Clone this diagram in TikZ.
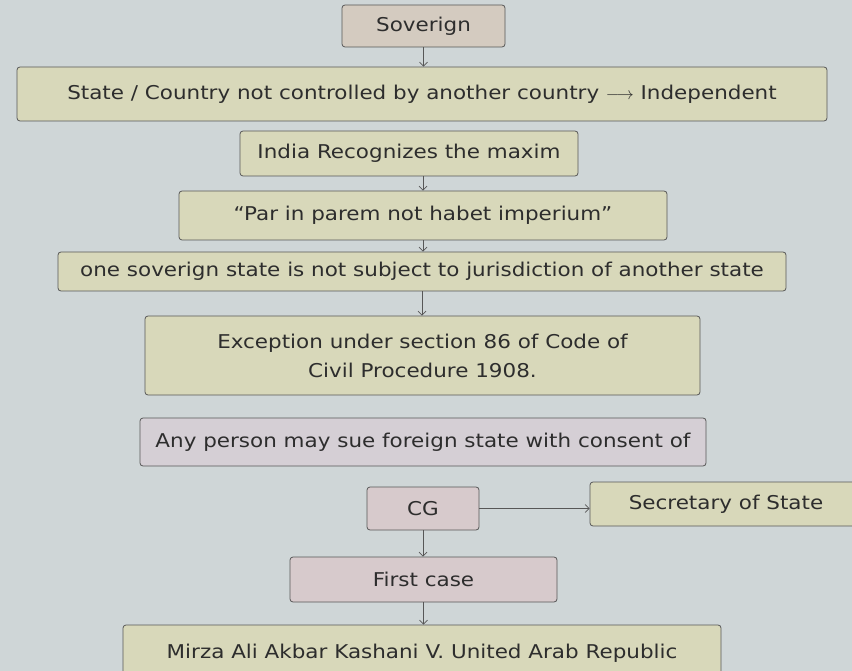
\documentclass[tikz,border=0pt]{standalone}
\usepackage{fontspec}
\setmainfont[FakeStretch=1.13]{DejaVu Sans}
\usetikzlibrary{arrows.meta}
\definecolor{bgcol}{RGB}{207,214,215}
\definecolor{greenbox}{RGB}{216,216,186}
\definecolor{pinkbox}{RGB}{215,202,204}
\definecolor{tanbox}{RGB}{212,203,192}
\definecolor{lilacbox}{RGB}{213,207,213}
\definecolor{inkcol}{RGB}{45,45,45}
\begin{document}
\begin{tikzpicture}[x=1pt,y=-1pt,
    box/.style={draw=inkcol!80, rounded corners=3pt, line width=0.8pt, text=inkcol,
        font=\fontsize{19}{24}\selectfont, inner sep=0pt, align=center},
    gbox/.style={box, fill=greenbox},
    pbox/.style={box, fill=pinkbox},
    link/.style={draw=inkcol!80, line width=0.7pt, -{Straight Barb[length=4pt,width=8pt]}}]
    % page and background
    \useasboundingbox (0,0) rectangle (852,671);
    \clip (0,0) rectangle (852,671);
    \fill[bgcol] (0,0) rectangle (852,671);
    % flow of boxes
    \node[box, fill=tanbox, minimum width=163, minimum height=42] (sov) at (423.5,26) {Soverign};
    \node[gbox, minimum width=810, minimum height=54] (state) at (422,94) {State / Country not controlled by another country $\longrightarrow$ Independent};
    \node[gbox, minimum width=338, minimum height=45] (india) at (409,153.5) {India Recognizes the maxim};
    \node[gbox, minimum width=488, minimum height=49] (maxim) at (423,215.5) {``Par in parem not habet imperium''};
    \node[gbox, minimum width=728, minimum height=39] (rule) at (422,271.5) {one soverign state is not subject to jurisdiction of another state};
    \node[gbox, minimum width=555, minimum height=79, font=\fontsize{19}{29}\selectfont] (excp) at (422.5,355.5) {Exception under section 86 of Code of\\Civil Procedure 1908.};
    \node[box, fill=lilacbox, minimum width=566, minimum height=48] (anyp) at (423,442) {Any person may sue foreign state with consent of};
    \node[pbox, minimum width=112, minimum height=43] (cg) at (423,508.5) {CG};
    \node[gbox, minimum width=272, minimum height=44] (secy) at (726,504) {Secretary of State};
    \node[pbox, minimum width=267, minimum height=45] (first) at (423.5,579.5) {First case};
    \node[gbox, minimum width=598, minimum height=56] (mirza) at (422,653) {Mirza Ali Akbar Kashani V. United Arab Republic};
    % arrows
    \draw[link] (sov) -- (state.north -| sov);
    \draw[link] (india.south -| maxim) -- (maxim);
    \draw[link] (maxim) -- (rule.north -| maxim);
    \draw[link] (rule) -- (excp.north -| rule);
    \draw[link] (cg.east) -- (cg.east -| secy.west);
    \draw[link] (cg) -- (first.north -| cg);
    \draw[link] (first) -- (mirza.north -| first);
\end{tikzpicture}
\end{document}
